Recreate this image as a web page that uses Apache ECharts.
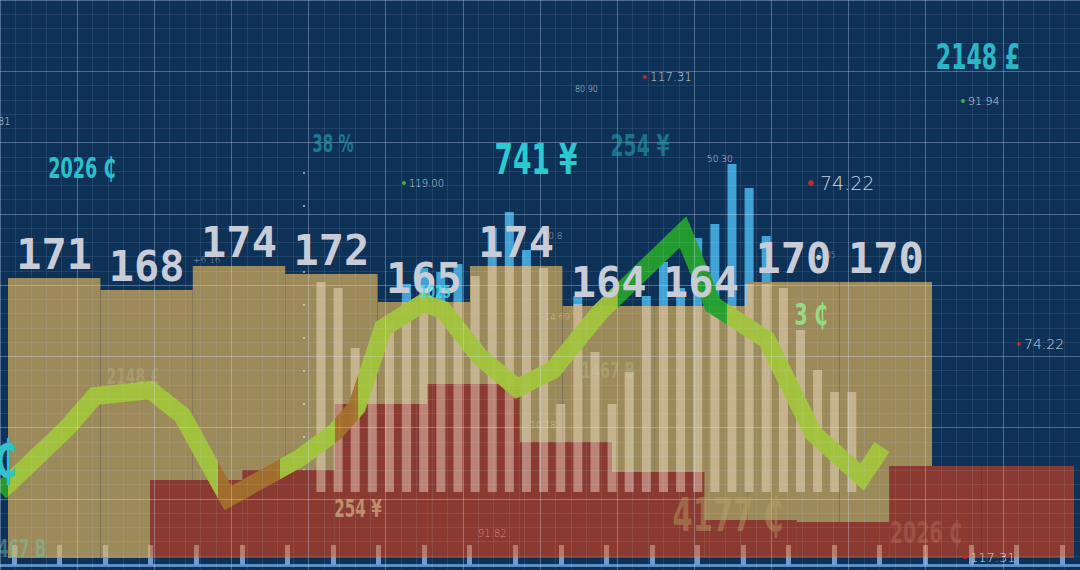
<!DOCTYPE html>
<html><head><meta charset="utf-8">
<script src="https://cdn.jsdelivr.net/npm/echarts@6/dist/echarts.min.js"></script>
<style>html,body{margin:0;padding:0;background:#0e3157}#c{width:1080px;height:570px}</style>
</head><body><div id="c"></div>
<script>
// ---------- data ----------
const tanCategories = ['P1','P2','P3','P4','P5','P6','P7','P8','P9','P10'];
const tanValues = [171,168,174,172,165,174,164,164,170,170];
const redCategories = ['R1','R2','R3','R4','R5','R6','R7','R8','R9','R10'];
const redValues = [39,44,77,87,58,43,19,18,46,46];
const stripCategories = Array.from({length:32},(_, i)=>'S'+(i+1));
const whiteValues = [52.5,51,36,30,42.5,47.5,47.5,47.5,47.5,54,56.5,56.5,56.5,56,22,47,35,22,30,46.5,46.5,46.5,46.5,46.5,46.5,52,52,51,40.5,30.5,25,25];
const blueValues  = ['-','-','-','-','-',52,56,55,57,'-',66,70,60.5,'-','-',49,'-','-','-',49,57.5,51,63.5,67,82,76,64,'-','-','-','-','-'];
const lineX = [0,6.7,9.5,15,18.2,22.8,30,33.5,35.7,38.3,42.3,44.3,48,51.7,55.3,60,68.3,71.3,76.7,81.3,86.2,88.2];
const lineY = [13.2,26,32.4,33.6,28.6,12,20,25.2,30.2,46,51,49.6,40.2,34,37.6,49.2,65.2,50.6,43.6,25,16.2,22.2];
const tickLabels = Array.from({length:24},(_, i)=>String(i));

// ---------- decorative annotations ----------
const bigFont = "'Liberation Sans Narrow','DejaVu Sans Condensed','Liberation Sans',sans-serif";
const smallFont = "'DejaVu Sans',sans-serif";
const decor = [
  {t:'2148 £', x:978, y:57, s:35, f:'#2bb5c6'},
  {t:'2026 ₵', x:82, y:169, s:28, f:'#2cc0cc'},
  {t:'741 ¥', x:536, y:160, s:42, f:'#2ccad0'},
  {t:'38 %', x:333, y:144, s:24, f:'rgba(40,170,185,0.6)', b:3},
  {t:'254 ¥', x:640, y:146, s:30, f:'rgba(40,170,185,0.55)', b:3},
  {t:'3 ₵', x:811, y:315, s:30, f:'rgba(150,235,140,0.85)'},
  {t:'254 ¥', x:358, y:509, s:24, f:'rgba(225,200,150,0.6)'},
  {t:'4177 ₵', x:728, y:515, s:46, f:'rgba(185,165,105,0.45)', b:3},
  {t:'2026 ₵', x:926, y:533, s:30, f:'rgba(175,105,85,0.5)', b:3},
  {t:'2148 £', x:133, y:376, s:22, f:'rgba(205,195,150,0.3)'},
  {t:'467 B', x:-2, y:549, s:24, f:'rgba(120,200,170,0.45)', a:'left'},
  {t:'₵', x:-6, y:459, s:52, f:'#2fc2cb', a:'left'},
  {t:'1467 B', x:608, y:370, s:22, f:'rgba(205,205,150,0.3)'},
  {t:'1025', x:435, y:292, s:18, f:'rgba(70,225,235,0.8)'}
];
const small = [
  {t:'117.31', x:650, y:77, s:12, d:'#c0282e'},
  {t:'80.90', x:575, y:89, s:8},
  {t:'119.00', x:409, y:183, s:10, d:'#3cb043'},
  {t:'50.30', x:707, y:159, s:9},
  {t:'74.22', x:820, y:183, s:19, d:'#c0282e', r:3},
  {t:'91.94', x:968, y:101, s:11, d:'#3cb043'},
  {t:'74.22', x:1024, y:344, s:14, d:'#c0282e'},
  {t:'117.31', x:970, y:557, s:13, d:'#c0282e'},
  {t:'91.82', x:478, y:533, s:10, f:'rgba(240,150,140,0.85)'},
  {t:'31', x:-2, y:121, s:10},
  {t:'+6.16', x:193, y:260, s:9, f:'rgba(200,210,225,0.7)'},
  {t:'-10.18', x:527, y:425, s:9, f:'rgba(235,220,175,0.7)'},
  {t:'-14.69', x:541, y:317, s:9, f:'rgba(235,220,175,0.6)'},
  {t:'+10.8', x:535, y:236, s:9, f:'rgba(220,225,235,0.7)'},
  {t:'5.05', x:818, y:255, s:8, f:'rgba(220,225,235,0.6)'}
];

const graphics = [];
graphics.push({type:'line', z:20, shape:{x1:304,y1:172,x2:304,y2:470},
  style:{stroke:'rgba(225,230,240,0.6)', lineWidth:2, lineDash:[2,31]}});
decor.forEach(d=>{
  graphics.push({type:'text', z:30, x:d.x, y:d.y, scaleX:0.7, style:{
    text:d.t, fill:d.f, fontSize:d.s, fontWeight:'bold', fontFamily:bigFont,
    align:d.a||'center', verticalAlign:'middle', textAlign:d.a||'center', textVerticalAlign:'middle',
    shadowBlur:d.b||0, shadowColor:d.b?d.f:'transparent'}});
});
small.forEach(d=>{
  graphics.push({type:'text', z:30, x:d.x, y:d.y, style:{
    text:d.t, fill:d.f||'rgba(225,230,240,0.9)', fontSize:d.s, fontWeight:300, fontFamily:smallFont,
    align:'left', verticalAlign:'middle', textAlign:'left', textVerticalAlign:'middle'}});
  if (d.d) graphics.push({type:'circle', z:30, shape:{cx:d.x-(d.r?9:5), cy:d.y, r:d.r||2}, style:{fill:d.d}});
});

const hidden = {show:false};
const chart = echarts.init(document.getElementById('c'), null, {renderer:'svg'});
chart.setOption({
  backgroundColor:'#0e3157',
  animation:false,
  grid:[
    {left:-25.8, top:-60.7, width:1159.2, height:661.6},
    {left:8, width:924, top:0, bottom:12},
    {left:312.4, width:548, top:0, bottom:78},
    {left:150, width:924, top:0, bottom:12},
    {left:0, width:1080, top:0, bottom:12},
    {left:14, width:1048, top:530, bottom:12},
    {left:14, width:1048, top:530, bottom:5},
    {left:0, width:1080, top:530, bottom:5}
  ],
  xAxis:[
    {gridIndex:0, type:'value', min:0, max:14, interval:1, z:6,
     axisLine:hidden, axisTick:hidden, axisLabel:hidden,
     splitLine:{show:true, lineStyle:{color:'rgba(215,232,255,0.33)', width:1}},
     minorTick:{show:false, splitNumber:5},
     minorSplitLine:{show:true, lineStyle:{color:'rgba(190,215,250,0.11)', width:1}}},
    {gridIndex:1, type:'category', data:tanCategories, show:false},
    {gridIndex:2, type:'category', data:stripCategories, show:false},
    {gridIndex:3, type:'category', data:redCategories, show:false},
    {gridIndex:4, type:'value', min:0, max:108, show:false},
    {gridIndex:5, type:'category', data:tickLabels, boundaryGap:false, z:4,
     axisLine:hidden, axisLabel:{show:false, interval:0},
     axisTick:{show:true, inside:true, interval:0, length:13, lineStyle:{color:'rgba(255,228,195,0.38)', width:5}}},
    {gridIndex:6, type:'category', data:tickLabels, boundaryGap:false, z:4,
     axisLine:hidden, axisLabel:{show:false, interval:0},
     axisTick:{show:true, inside:true, interval:0, length:8, lineStyle:{color:'#6e9bd0', width:5}}},
    {gridIndex:7, type:'value', min:0, max:1, z:4,
     axisLine:{show:true, lineStyle:{color:'#5e8dc2', width:3}}, axisTick:hidden, axisLabel:hidden, splitLine:hidden}
  ],
  yAxis:[
    {gridIndex:0, type:'value', min:0, max:8, interval:1, z:6,
     axisLine:hidden, axisTick:hidden, axisLabel:hidden,
     splitLine:{show:true, lineStyle:{color:'rgba(215,232,255,0.33)', width:1}},
     minorTick:{show:false, splitNumber:5},
     minorSplitLine:{show:true, lineStyle:{color:'rgba(190,215,250,0.11)', width:1}}},
    {gridIndex:1, type:'value', min:101, max:240.5, show:false},
    {gridIndex:2, type:'value', min:0, max:123, show:false},
    {gridIndex:3, type:'value', min:0, max:279, show:false},
    {gridIndex:4, type:'value', min:0, max:111.6, show:false},
    {gridIndex:5, type:'value', show:false},
    {gridIndex:6, type:'value', show:false},
    {gridIndex:7, type:'value', show:false}
  ],
  visualMap:{type:'piecewise', show:false, seriesIndex:5, dimension:0, pieces:[
    {lt:0.8, color:'#24a02c'},
    {gte:0.8, lt:21.8, color:'#a2c43c'},
    {gte:21.8, lt:28, color:'#a3702c'},
    {gte:28, lt:33.5, color:'#a2c43c'},
    {gte:33.5, lt:35.8, color:'#a3702c'},
    {gte:35.8, lt:61.7, color:'#a2c43c'},
    {gte:61.7, lt:72.7, color:'#24a02c'},
    {gte:72.7, color:'#a2c43c'}
  ]},
  series:[
    {type:'bar', name:'blue', xAxisIndex:2, yAxisIndex:2, data:blueValues, barWidth:9, barGap:'-100%',
     itemStyle:{color:'#41a2d6'}, z:1},
    {type:'bar', name:'tan', xAxisIndex:1, yAxisIndex:1, data:tanValues, barWidth:'100%', barGap:'-100%', barCategoryGap:'0%',
     itemStyle:{color:'#9c8a5b'}, z:2},
    {type:'bar', name:'red', xAxisIndex:3, yAxisIndex:3, data:redValues, barWidth:'100%', barCategoryGap:'0%',
     itemStyle:{color:'#8a3a31'}, z:3},
    {type:'bar', name:'white', xAxisIndex:2, yAxisIndex:2, data:whiteValues, barWidth:9, barGap:'-100%',
     itemStyle:{color:'rgba(255,236,214,0.42)'}, z:4},
    {type:'bar', name:'tanLabels', xAxisIndex:1, yAxisIndex:1, data:tanValues, barWidth:'100%', barGap:'-100%', barCategoryGap:'0%',
     itemStyle:{color:'rgba(0,0,0,0)'}, z:8,
     label:{show:true, position:'top', distance:3, color:'#c8ccd7', fontFamily:"'DejaVu Sans Mono',monospace",
            fontWeight:'bold', fontSize:42, formatter:'{c}'}},
    {type:'line', name:'trend', xAxisIndex:4, yAxisIndex:4, data:lineX.map((x,i)=>[x,lineY[i]]),
     symbol:'none', clip:false, z:5, lineStyle:{width:18, join:'miter', opacity:0.95}}
  ],
  graphic:{elements:graphics}
});
</script>
</body></html>
